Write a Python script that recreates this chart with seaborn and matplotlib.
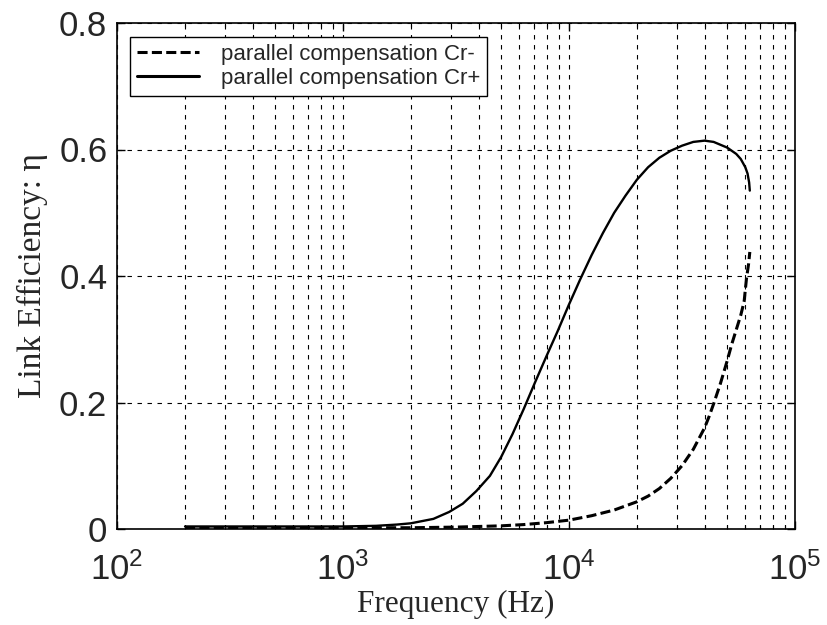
import matplotlib
matplotlib.use("Agg")
import matplotlib.pyplot as plt
import pandas as pd
import seaborn as sns
from matplotlib.ticker import LogLocator, NullFormatter

# Link efficiency vs. frequency for the two parallel-compensation cases
freq_cr_minus = [200, 1000, 1995, 3162, 5012, 6310, 7943, 10000, 12590, 15850,
                 19950, 22390, 25120, 28180, 31620, 35480, 39810, 41690, 43650,
                 46770, 50120, 52480, 54950, 57540, 59570, 60950, 62370, 63100]
eff_cr_minus = [0.002, 0.002, 0.002, 0.003, 0.005, 0.007, 0.010, 0.014, 0.021,
                0.030, 0.043, 0.052, 0.064, 0.080, 0.100, 0.126, 0.160, 0.178,
                0.198, 0.230, 0.266, 0.292, 0.315, 0.338, 0.360, 0.395, 0.420,
                0.438]

freq_cr_plus = [200, 500, 1000, 1400, 1730, 1995, 2512, 2951, 3388, 3890, 4467,
                5012, 5623, 6310, 7079, 7943, 8913, 10000, 11220, 12590, 14130,
                15850, 17780, 19950, 22390, 25120, 28180, 31620, 35480, 39810,
                43650, 50120, 54950, 57540, 60260, 61660, 62660, 63100]
eff_cr_plus = [0.004, 0.004, 0.004, 0.005, 0.007, 0.009, 0.016, 0.027, 0.040,
               0.060, 0.084, 0.114, 0.150, 0.190, 0.232, 0.273, 0.313, 0.355,
               0.395, 0.433, 0.468, 0.500, 0.527, 0.552, 0.572, 0.587, 0.598,
               0.606, 0.612, 0.614, 0.612, 0.603, 0.593, 0.585, 0.572, 0.562,
               0.548, 0.535]

series_labels = ["parallel compensation Cr-", "parallel compensation Cr+"]
xtick_values = [1e2, 1e3, 1e4, 1e5]
xtick_labels = [r"$\mathregular{10^{2}}$", r"$\mathregular{10^{3}}$",
                r"$\mathregular{10^{4}}$", r"$\mathregular{10^{5}}$"]
ytick_values = [0, 0.2, 0.4, 0.6, 0.8]
ytick_labels = ["0", "0.2", "0.4", "0.6", "0.8"]
x_label = "Frequency (Hz)"
y_label = "Link Efficiency: η"

sns.set_theme(style="white")
plt.rcParams["font.family"] = ["Liberation Sans", "DejaVu Sans"]
plt.rcParams["mathtext.fontset"] = "custom"
plt.rcParams["mathtext.rm"] = "Liberation Sans"
plt.rcParams["mathtext.it"] = "Liberation Sans:italic"
plt.rcParams["mathtext.bf"] = "Liberation Sans:bold"

df_minus = pd.DataFrame({"freq": freq_cr_minus, "eff": eff_cr_minus})
df_plus = pd.DataFrame({"freq": freq_cr_plus, "eff": eff_cr_plus})

W, H = 828, 625
fig = plt.figure(figsize=(W / 100, H / 100), dpi=100)
ax = fig.add_axes([117 / W, 1 - 529 / H, 678 / W, 506 / H])

sns.lineplot(data=df_minus, x="freq", y="eff", color="black", linewidth=2.2,
             linestyle=(0, (3.3, 1.4)), estimator=None, sort=False,
             label=series_labels[0], ax=ax, zorder=3)
sns.lineplot(data=df_plus, x="freq", y="eff", color="black", linewidth=1.7,
             estimator=None, sort=False, label=series_labels[1], ax=ax, zorder=4)

ax.set_xscale("log")
ax.set_xlim(1e2, 1e5)
ax.set_ylim(0, 0.8)
ax.set_xticks(xtick_values, labels=xtick_labels)
ax.xaxis.set_minor_locator(LogLocator(base=10, subs=range(2, 10)))
ax.xaxis.set_minor_formatter(NullFormatter())
ax.set_yticks(ytick_values, labels=ytick_labels)

grid_style = dict(color="black", linestyle=(0, (4, 5)), linewidth=0.8)
ax.grid(True, which="both", axis="x", **grid_style)
ax.grid(True, which="major", axis="y", **grid_style)
ax.set_axisbelow(True)

for s in ax.spines.values():
    s.set_color("black")
    s.set_linewidth(1.2)

ax.tick_params(axis="both", which="both", direction="in", top=True, right=True,
               bottom=True, left=True, color="black")
ax.tick_params(axis="both", which="major", length=6, width=1)
ax.tick_params(axis="x", which="minor", length=3, width=0.8)
ax.tick_params(axis="x", which="major", labelsize=25, pad=17)
ax.tick_params(axis="y", which="major", labelsize=25, pad=7)

ax.set_xlabel(x_label, fontsize=22.5, family=["Liberation Serif", "DejaVu Serif"],
              labelpad=2)
ax.set_ylabel(y_label, fontsize=24, family=["Liberation Serif", "DejaVu Serif"],
              labelpad=8)

handles, labels = ax.get_legend_handles_labels()
leg = ax.legend(handles, labels, loc="upper left",
                bbox_to_anchor=(13 / 678, 1 - 14 / 506), borderaxespad=0,
                fontsize=16, frameon=True, fancybox=False, framealpha=1,
                edgecolor="black", handlelength=2.8, handletextpad=1.0,
                borderpad=0.3, labelspacing=0.15)
leg.get_frame().set_linewidth(1.0)
for line in leg.get_lines():
    line.set_linewidth(2.2)

fig.savefig("out.png", dpi=100, facecolor="white")
